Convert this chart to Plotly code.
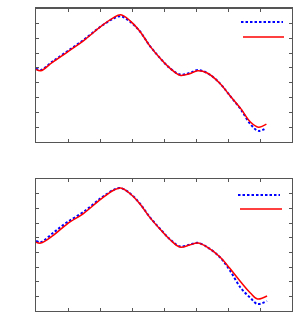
import plotly.graph_objects as go

# Top panel
top_x_red = [0, 0.15, 0.5, 1.0, 1.5, 2.0, 2.4, 2.65, 2.95, 3.25, 3.55, 3.9, 4.2, 4.5, 4.8, 5.05, 5.35, 5.75, 6.05, 6.4, 6.7, 6.95, 7.2]
top_y_red = [4.9, 4.8, 5.35, 6.1, 6.85, 7.75, 8.35, 8.58, 8.15, 7.45, 6.5, 5.6, 4.95, 4.5, 4.6, 4.8, 4.65, 3.95, 3.15, 2.25, 1.35, 1.0, 1.2]
top_x_blue = [0, 0.15, 0.5, 1.0, 1.5, 2.0, 2.4, 2.65, 2.95, 3.25, 3.55, 3.9, 4.2, 4.5, 4.8, 5.05, 5.35, 5.75, 6.05, 6.4, 6.7, 6.95, 7.2]
top_y_blue = [4.95, 4.85, 5.4, 6.15, 6.9, 7.75, 8.3, 8.48, 8.1, 7.45, 6.5, 5.6, 4.95, 4.55, 4.65, 4.85, 4.65, 3.95, 3.15, 2.2, 1.2, 0.75, 0.95]

# Bottom panel
bot_x_red = [0, 0.15, 0.55, 0.97, 1.5, 2.03, 2.44, 2.65, 2.95, 3.25, 3.55, 3.9, 4.2, 4.5, 4.8, 5.05, 5.35, 5.75, 6.05, 6.4, 6.7, 6.92, 7.22]
bot_y_red = [4.7, 4.63, 5.18, 5.93, 6.68, 7.63, 8.25, 8.38, 7.98, 7.3, 6.4, 5.52, 4.84, 4.36, 4.5, 4.63, 4.36, 3.68, 2.93, 1.98, 1.23, 0.82, 1.02]
bot_x_blue = [0, 0.15, 0.55, 0.97, 1.5, 2.03, 2.44, 2.65, 2.95, 3.25, 3.55, 3.9, 4.2, 4.5, 4.8, 5.05, 5.35, 5.75, 6.05, 6.4, 6.7, 6.92, 7.22]
bot_y_blue = [4.78, 4.7, 5.35, 6.05, 6.78, 7.7, 8.28, 8.38, 8.0, 7.32, 6.42, 5.55, 4.86, 4.4, 4.52, 4.65, 4.36, 3.66, 2.8, 1.57, 0.89, 0.48, 0.68]

BLUE = "#0000ff"
RED = "#ff0000"
DOT = "2.5px,2px"

fig = go.Figure()
fig.add_trace(go.Scatter(x=top_x_blue, y=top_y_blue, mode="lines", line=dict(color=BLUE, width=2, dash=DOT, shape="spline"), xaxis="x", yaxis="y", showlegend=False))
fig.add_trace(go.Scatter(x=top_x_red, y=top_y_red, mode="lines", line=dict(color=RED, width=1.5, shape="spline"), xaxis="x", yaxis="y", showlegend=False))
fig.add_trace(go.Scatter(x=bot_x_blue, y=bot_y_blue, mode="lines", line=dict(color=BLUE, width=2, dash=DOT, shape="spline"), xaxis="x2", yaxis="y2", showlegend=False))
fig.add_trace(go.Scatter(x=bot_x_red, y=bot_y_red, mode="lines", line=dict(color=RED, width=1.5, shape="spline"), xaxis="x2", yaxis="y2", showlegend=False))

W, H = 295, 329
def px(xp): return xp / W
def py(yp): return 1 - yp / H

ax_common = dict(showgrid=False, zeroline=False, showline=True, linecolor="#555555", linewidth=1.3,
                 mirror="ticks", ticks="inside", ticklen=3, tickcolor="#555555", tickwidth=1,
                 showticklabels=False)

fig.update_layout(
    width=W, height=H, margin=dict(l=0, r=0, t=0, b=0),
    paper_bgcolor="white", plot_bgcolor="white", showlegend=False, hovermode=False,
    xaxis=dict(domain=[px(36), px(292)], range=[0, 8], dtick=1, anchor="y", **ax_common),
    yaxis=dict(domain=[py(142), py(8.5)], range=[0, 9], dtick=1, anchor="x", **ax_common),
    xaxis2=dict(domain=[px(36), px(292)], range=[0, 8], dtick=1, anchor="y2", **ax_common),
    yaxis2=dict(domain=[py(311), py(179)], range=[0, 9], dtick=1, anchor="x2", **ax_common),
)

# legend samples (no labels)
legend_samples = [
    (241, 283, 22, BLUE, 2, DOT),
    (243, 284, 37, RED, 1.5, "solid"),
    (238, 280, 195, BLUE, 2, DOT),
    (240, 282, 209, RED, 1.5, "solid"),
]
for x0, x1, yy, c, w, d in legend_samples:
    fig.add_shape(type="line", xref="paper", yref="paper", x0=px(x0), x1=px(x1), y0=py(yy), y1=py(yy),
                  line=dict(color=c, width=w, dash=d))

fig.write_html("out.html", config={"displayModeBar": False, "staticPlot": True},
               post_script="document.body.style.margin='0';document.body.style.overflow='hidden';")
